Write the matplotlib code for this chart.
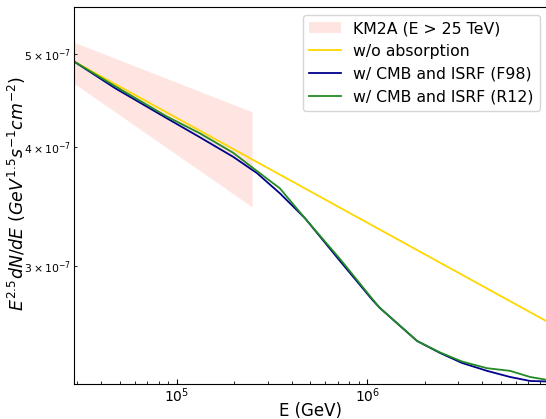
import matplotlib
matplotlib.use("Agg")
import matplotlib.pyplot as plt

# KM2A band (E > 25 TeV)
band_e = [2.5e4, 2.48e5]
band_hi = [5.20e-7, 4.35e-7]
band_lo = [4.75e-7, 3.46e-7]

# no absorption (straight power law)
noabs_e = [2.88e4, 8.86e6]
noabs_flux = [4.91e-7, 2.623e-7]

# absorbed spectra
energy = [2.88e4, 4.73e4, 8.86e4, 1.32e5, 1.97e5, 2.63e5, 3.47e5, 4.70e5,
          7.17e5, 1.06e6, 1.16e6, 1.82e6, 2.40e6, 3.13e6, 4.24e6, 5.60e6,
          7.13e6, 8.86e6]
flux_f98 = [4.910, 4.605, 4.282, 4.091, 3.904, 3.753, 3.575, 3.367,
            3.038, 2.767, 2.714, 2.506, 2.435, 2.377, 2.332, 2.298,
            2.276, 2.273]
flux_r12 = [4.910, 4.627, 4.300, 4.130, 3.942, 3.772, 3.618, 3.366,
            3.053, 2.773, 2.714, 2.506, 2.438, 2.385, 2.347, 2.332,
            2.298, 2.281]
flux_f98 = [v * 1e-7 for v in flux_f98]
flux_r12 = [v * 1e-7 for v in flux_r12]

fig = plt.figure(figsize=(5.46, 4.19), dpi=100)
ax = fig.add_axes([0.1355, 0.0847, 0.8681, 0.8986])

ax.fill_between(band_e, band_lo, band_hi, color="salmon", alpha=0.2,
                linewidth=0, label="KM2A (E > 25 TeV)")
ax.plot(noabs_e, noabs_flux, color="gold", lw=1.3, label="w/o absorption")
ax.plot(energy, flux_f98, color="darkblue", lw=1.3, label="w/ CMB and ISRF (F98)")
ax.plot(energy, flux_r12, color="forestgreen", lw=1.3, label="w/ CMB and ISRF (R12)")

ax.set_xscale("log")
ax.set_yscale("log")
ax.set_xlim(2.88e4, 8.86e6)
ax.set_ylim(2.262e-7, 5.598e-7)

ax.tick_params(axis="both", which="both", direction="in", pad=2)
ax.tick_params(axis="both", which="major", labelsize=10)
ax.tick_params(axis="y", which="minor", labelsize=7.8)

ax.set_xlabel("E (GeV)", fontsize=12, labelpad=0)
ax.xaxis.set_label_coords(0.5, -0.048)
ax.set_ylabel(r"$E^{2.5}dN/dE\ (GeV^{1.5}s^{-1}cm^{-2})$", fontsize=12.5)
ax.yaxis.set_label_coords(-0.097, 0.505)

ax.legend(loc="upper right", fontsize=11.3)

fig.savefig("out.png", dpi=100)
